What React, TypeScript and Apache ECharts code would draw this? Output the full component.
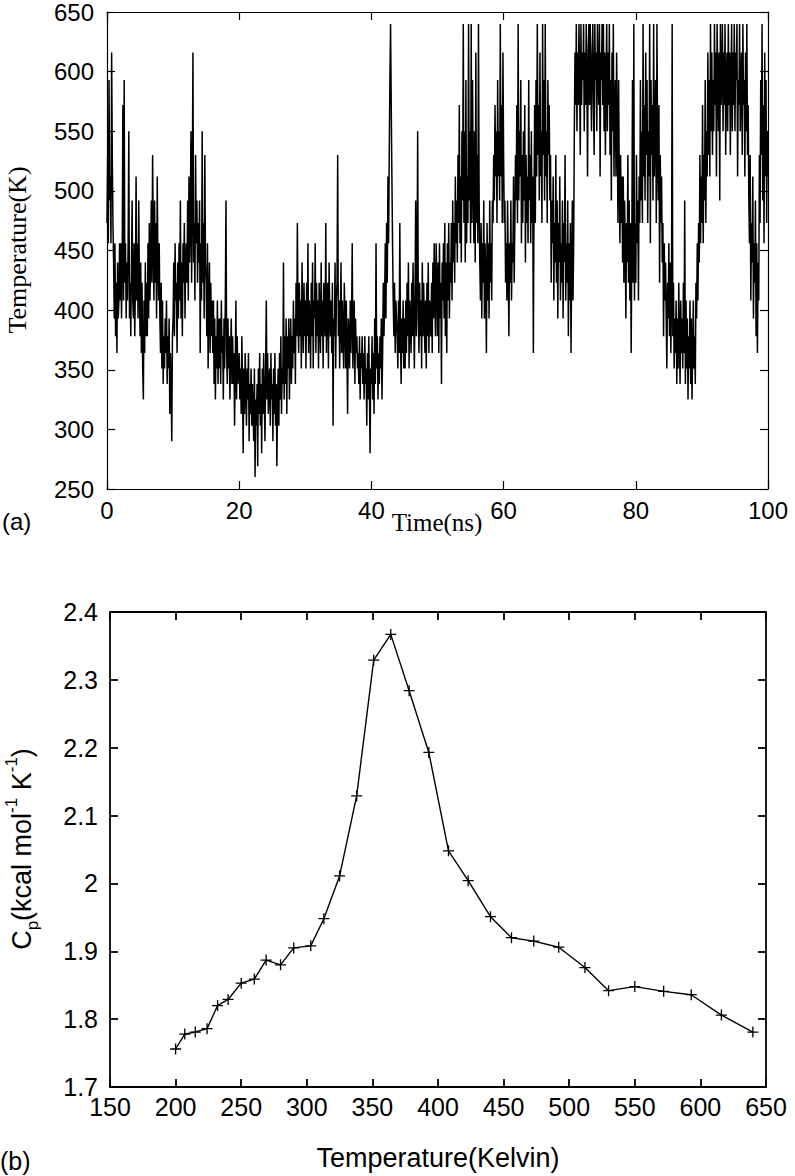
import React, { useEffect, useRef } from "react";
import * as echarts from "echarts";

// Panel (a): replica temperature trajectory, sampled every 0.1 ns
const TIME_STEP_NS = 0.1;
const TRAJ_00_20 = [
  473, 530, 456, 593, 492, 512, 456, 616, 530, 473,
  440, 393, 456, 378, 423, 364, 440, 393, 408, 456,
  408, 456, 393, 440, 572, 408, 593, 423, 456, 393,
  440, 408, 456, 550, 393, 423, 378, 440, 492, 408,
  393, 456, 378, 423, 512, 408, 456, 393, 492, 423,
  378, 440, 364, 423, 351, 325, 408, 364, 440, 378,
  423, 378, 456, 393, 473, 408, 440, 492, 423, 530,
  456, 408, 492, 423, 473, 393, 512, 440, 408, 456,
  393, 364, 423, 351, 408, 338, 378, 351, 393, 364,
  408, 338, 378, 351, 393, 313, 364, 338, 290, 378,
  393, 440, 378, 456, 408, 423, 364, 440, 393, 456,
  408, 492, 393, 440, 378, 456, 423, 473, 393, 440,
  456, 423, 492, 408, 512, 440, 473, 550, 423, 492,
  616, 440, 473, 408, 530, 456, 492, 423, 473, 440,
  492, 364, 456, 408, 550, 423, 473, 393, 530, 440,
  423, 378, 456, 351, 408, 440, 364, 423, 378, 408,
  364, 408, 338, 393, 325, 378, 351, 408, 338, 393,
  351, 393, 338, 408, 364, 378, 325, 393, 351, 408,
  492, 364, 338, 393, 351, 378, 325, 364, 393, 338,
  378, 338, 364, 303, 351, 408, 325, 378, 338, 351,
];
const TRAJ_20_40 = [
  364, 325, 351, 313, 378, 338, 280, 351, 313, 364,
  338, 303, 351, 325, 364, 290, 338, 313, 351, 303,
  338, 313, 290, 351, 260, 325, 303, 338, 269, 351,
  313, 364, 303, 338, 280, 351, 313, 364, 325, 290,
  351, 408, 325, 364, 313, 338, 351, 303, 364, 325,
  338, 290, 351, 313, 364, 303, 338, 269, 325, 351,
  303, 364, 325, 378, 313, 351, 338, 440, 325, 378,
  338, 393, 313, 378, 351, 393, 325, 364, 393, 338,
  378, 351, 408, 364, 393, 338, 423, 378, 473, 393,
  364, 423, 378, 408, 351, 440, 393, 364, 423, 378,
  408, 351, 423, 378, 456, 364, 408, 393, 351, 423,
  378, 440, 351, 408, 393, 456, 364, 423, 378, 408,
  351, 423, 393, 364, 440, 378, 408, 351, 423, 393,
  378, 473, 364, 408, 423, 351, 440, 393, 378, 408,
  364, 423, 303, 393, 378, 440, 351, 408, 423, 530,
  378, 408, 351, 393, 440, 364, 408, 378, 351, 423,
  393, 351, 408, 364, 313, 393, 378, 351, 408, 364,
  393, 456, 351, 378, 408, 338, 393, 364, 378, 351,
  364, 338, 378, 325, 364, 351, 378, 338, 364, 325,
  378, 338, 351, 303, 364, 325, 378, 338, 280, 351,
];
const TRAJ_40_60 = [
  338, 378, 325, 364, 313, 393, 338, 456, 351, 378,
  325, 364, 338, 378, 351, 393, 325, 364, 423, 378,
  408, 456, 393, 473, 423, 512, 456, 530, 593, 640,
  572, 512, 456, 408, 378, 423, 364, 408, 393, 378,
  351, 408, 364, 473, 378, 338, 393, 364, 408, 351,
  393, 351, 408, 364, 423, 378, 440, 351, 408, 393,
  364, 423, 378, 440, 393, 351, 408, 492, 378, 423,
  550, 393, 364, 423, 378, 408, 351, 440, 378, 423,
  393, 364, 408, 351, 423, 378, 440, 364, 408, 393,
  378, 423, 364, 440, 393, 456, 408, 378, 456, 423,
  378, 440, 364, 456, 393, 423, 338, 440, 408, 456,
  393, 473, 378, 440, 364, 456, 408, 473, 393, 440,
  423, 473, 408, 492, 440, 473, 423, 512, 456, 492,
  440, 530, 473, 572, 456, 512, 440, 550, 492, 640,
  473, 550, 440, 593, 456, 512, 473, 640, 492, 550,
  456, 640, 473, 593, 512, 456, 550, 440, 616, 473,
  530, 456, 640, 492, 440, 408, 473, 393, 456, 423,
  492, 393, 456, 423, 364, 473, 408, 456, 393, 492,
  423, 456, 408, 492, 473, 530, 492, 572, 512, 550,
  473, 593, 512, 550, 492, 640, 512, 572, 473, 616,
];
const TRAJ_60_80 = [
  530, 473, 492, 423, 456, 408, 492, 440, 378, 456,
  423, 492, 408, 456, 440, 512, 423, 473, 530, 492,
  572, 473, 640, 492, 550, 512, 593, 456, 530, 473,
  550, 492, 572, 440, 530, 473, 512, 456, 593, 492,
  530, 456, 550, 473, 512, 364, 492, 572, 473, 593,
  512, 640, 530, 572, 492, 616, 512, 550, 473, 640,
  530, 593, 492, 640, 512, 550, 473, 593, 530, 572,
  492, 530, 423, 492, 456, 512, 408, 473, 440, 530,
  423, 492, 393, 473, 440, 512, 408, 456, 423, 492,
  393, 473, 440, 530, 408, 456, 423, 492, 378, 456,
  408, 473, 364, 440, 492, 408, 456, 550, 616, 572,
  640, 550, 616, 572, 640, 593, 530, 640, 572, 616,
  593, 640, 550, 616, 572, 640, 593, 512, 616, 640,
  572, 640, 593, 550, 616, 640, 572, 530, 640, 593,
  616, 550, 640, 593, 572, 640, 512, 616, 593, 640,
  572, 640, 550, 616, 530, 593, 640, 550, 616, 572,
  640, 530, 593, 492, 616, 550, 640, 512, 572, 593,
  512, 616, 550, 473, 593, 512, 456, 530, 473, 512,
  440, 512, 423, 492, 456, 393, 473, 440, 530, 423,
  492, 408, 473, 364, 456, 593, 423, 640, 408, 473,
];
const TRAJ_80_100 = [
  423, 530, 456, 492, 408, 512, 473, 593, 492, 550,
  473, 640, 512, 572, 492, 616, 530, 593, 473, 550,
  512, 640, 456, 593, 530, 572, 492, 640, 512, 550,
  593, 473, 640, 530, 492, 572, 423, 530, 473, 512,
  440, 473, 378, 456, 408, 440, 393, 351, 423, 393,
  456, 378, 440, 364, 408, 640, 378, 423, 351, 393,
  364, 408, 338, 393, 351, 423, 378, 338, 408, 364,
  393, 351, 423, 364, 492, 338, 408, 351, 393, 325,
  378, 351, 408, 338, 393, 325, 364, 408, 351, 378,
  338, 423, 393, 456, 408, 473, 440, 530, 456, 512,
  473, 572, 456, 530, 492, 593, 473, 550, 512, 616,
  530, 593, 512, 640, 550, 616, 530, 593, 550, 640,
  572, 616, 512, 640, 593, 550, 616, 492, 640, 572,
  593, 640, 550, 616, 572, 640, 530, 593, 616, 550,
  640, 572, 616, 530, 593, 640, 550, 616, 572, 640,
  550, 616, 593, 640, 512, 593, 572, 640, 550, 593,
  616, 530, 640, 572, 593, 512, 616, 550, 640, 530,
  572, 492, 456, 530, 408, 473, 440, 512, 393, 456,
  423, 492, 378, 456, 364, 440, 408, 530, 473, 593,
  530, 640, 492, 572, 456, 616, 512, 593, 473, 550,
  512,
];

// Panel (b): heat capacity vs replica temperature
const CP_TEMPS = [
  200, 207, 215, 224, 232, 240, 250, 260, 269, 280, 290, 303, 313, 325, 338, 351,
  364, 378, 393, 408, 423, 440, 456, 473, 492, 512, 530, 550, 572, 593, 616, 640,
];
const CP_VALUES = [
  1.756, 1.778, 1.781, 1.786, 1.82, 1.829, 1.853, 1.859, 1.887, 1.88, 1.905, 1.908, 1.948, 2.011, 2.129, 2.329,
  2.367, 2.284, 2.193, 2.048, 2.004, 1.951, 1.92, 1.915, 1.906, 1.876, 1.842, 1.848, 1.841, 1.836, 1.806, 1.781,
];

const PLUS = "path://M4.4,0H5.6V4.4H10V5.6H5.6V10H4.4V5.6H0V4.4H4.4Z";

function axisBase(gridIndex: number, min: number, max: number, interval: number, position: string, labels: boolean, fontSize: number, margin: number, lw: number) {
  return {
    gridIndex,
    type: "value",
    min,
    max,
    interval,
    position,
    axisLine: { show: true, onZero: false, lineStyle: { color: "#000", width: lw } },
    axisTick: { show: true, inside: true, length: 8, lineStyle: { color: "#000", width: lw } },
    axisLabel: {
      show: labels,
      color: "#000",
      fontFamily: "Liberation Sans",
      fontSize,
      margin,
    },
    splitLine: { show: false },
  };
}

export default function App() {
  const ref = useRef<HTMLDivElement>(null);

  useEffect(() => {
    if (!ref.current) return;
    const chart = echarts.init(ref.current, undefined, { renderer: "svg" });
    const traj = [...TRAJ_00_20, ...TRAJ_20_40, ...TRAJ_40_60, ...TRAJ_60_80, ...TRAJ_80_100];
    const trajData = traj.map((v, i) => [+(i * TIME_STEP_NS).toFixed(2), v]);
    const cpData = CP_TEMPS.map((t, i) => [t, CP_VALUES[i]]);

    chart.setOption({
      animation: false,
      backgroundColor: "#fff",
      grid: [
        { left: 107, top: 10, width: 661, height: 479 },
        { left: 110, top: 612, width: 656, height: 475 },
      ],
      xAxis: [
        axisBase(0, 0, 100, 20, "bottom", true, 24, 9, 1.2),
        axisBase(0, 0, 100, 20, "top", false, 24, 9, 1.2),
        axisBase(1, 150, 650, 50, "bottom", true, 25, 7, 1.8),
        axisBase(1, 150, 650, 50, "top", false, 25, 7, 1.8),
      ],
      yAxis: [
        axisBase(0, 250, 650, 50, "left", true, 24, 13, 1.2),
        axisBase(0, 250, 650, 50, "right", false, 24, 13, 1.2),
        axisBase(1, 1.7, 2.4, 0.1, "left", true, 25, 12, 1.8),
        axisBase(1, 1.7, 2.4, 0.1, "right", false, 25, 12, 1.8),
      ],
      series: [
        {
          type: "line",
          xAxisIndex: 0,
          yAxisIndex: 0,
          data: trajData,
          showSymbol: false,
          symbol: "none",
          silent: true,
          lineStyle: { color: "#000", width: 1.5, join: "miter", miterLimit: 2 },
        },
        {
          type: "line",
          xAxisIndex: 2,
          yAxisIndex: 2,
          data: cpData,
          symbol: PLUS,
          symbolSize: 11,
          itemStyle: { color: "#000" },
          lineStyle: { color: "#000", width: 1.4 },
        },
      ],
      graphic: [
        {
          type: "text",
          x: 17,
          y: 250,
          rotation: Math.PI / 2,
          style: {
            text: "Temperature(K)",
            font: '26px "Liberation Serif"',
            fill: "#000",
            textAlign: "center",
            textVerticalAlign: "middle",
          },
        },
        {
          type: "text",
          x: 437,
          y: 522,
          style: {
            text: "Time(ns)",
            font: '25px "Liberation Serif"',
            fill: "#000",
            textAlign: "center",
            textVerticalAlign: "middle",
          },
        },
        {
          type: "text",
          x: 2,
          y: 521,
          style: {
            text: "(a)",
            font: '24px "Liberation Sans"',
            fill: "#000",
            textAlign: "left",
            textVerticalAlign: "middle",
          },
        },
        {
          type: "text",
          x: 438,
          y: 1158,
          style: {
            text: "Temperature(Kelvin)",
            font: '27px "Liberation Sans"',
            fill: "#000",
            textAlign: "center",
            textVerticalAlign: "middle",
          },
        },
        {
          type: "text",
          x: 0,
          y: 1161,
          style: {
            text: "(b)",
            font: '25px "Liberation Sans"',
            fill: "#000",
            textAlign: "left",
            textVerticalAlign: "middle",
          },
        },
        {
          type: "text",
          x: 22,
          y: 849,
          rotation: Math.PI / 2,
          style: {
            text: "{n|C}{sub|p}{n|(kcal mol}{sup|-1}{n| K}{sup|-1}{n|)}",
            fill: "#000",
            textAlign: "center",
            textVerticalAlign: "middle",
            rich: {
              n: { fontSize: 27, fontFamily: "Liberation Sans", fill: "#000", lineHeight: 38, verticalAlign: "middle" },
              sub: { fontSize: 17, fontFamily: "Liberation Sans", fill: "#000", verticalAlign: "bottom" },
              sup: { fontSize: 17, fontFamily: "Liberation Sans", fill: "#000", verticalAlign: "top" },
            },
          },
        },
      ],
    });
    return () => chart.dispose();
  }, []);

  return (
    <div
      ref={ref}
      style={{ position: "absolute", left: 0, top: 0, width: 795, height: 1176 }}
    />
  );
}
